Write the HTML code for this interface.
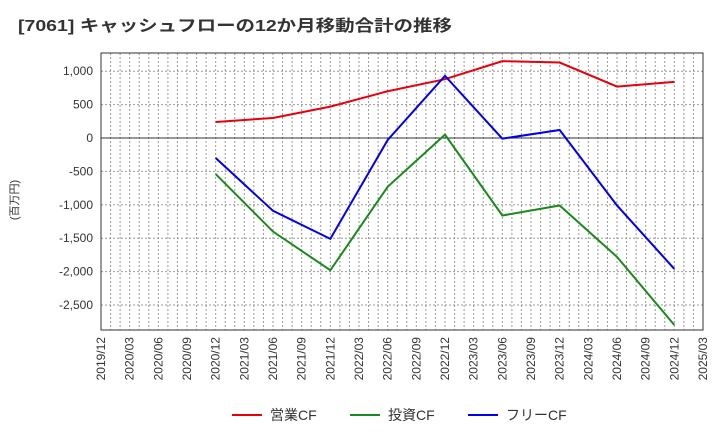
<!DOCTYPE html>
<html><head><meta charset="utf-8"><style>
body{margin:0;background:#fff;font-family:"Liberation Sans","Noto Sans CJK JP",sans-serif;}
</style></head><body>
<svg id="c" width="720" height="440" xmlns="http://www.w3.org/2000/svg" style="font-family:'Liberation Sans','Noto Sans CJK JP',sans-serif">
<text x="18" y="31" font-size="16" font-weight="bold" fill="#333" textLength="434" lengthAdjust="spacingAndGlyphs">[7061]  キャッシュフローの12か月移動合計の推移</text>
<text transform="translate(18,200) rotate(-90)" font-size="11" fill="#333" text-anchor="middle">(百万円)</text>
<g id="grid"></g><g id="series"></g><g id="axes"></g>
<g>
<line x1="232" y1="415" x2="262" y2="415" stroke="#e8000b" stroke-width="2"/><text x="270" y="420" font-size="14" fill="#333">営業CF</text>
<line x1="350" y1="415" x2="380" y2="415" stroke="#1a8a1a" stroke-width="2"/><text x="388" y="420" font-size="14" fill="#333">投資CF</text>
<line x1="468" y1="415" x2="498" y2="415" stroke="#0000ee" stroke-width="2"/><text x="506" y="420" font-size="14" fill="#333">フリーCF</text>
</g>
</svg>
<script>
const xLabels=["2019/12","2020/03","2020/06","2020/09","2020/12","2021/03","2021/06","2021/09","2021/12","2022/03","2022/06","2022/09","2022/12","2023/03","2023/06","2023/09","2023/12","2024/03","2024/06","2024/09","2024/12","2025/03"];
const yTicks=[1000,500,0,-500,-1000,-1500,-2000,-2500];
const yTickLabels=["1,000","500","0","-500","-1,000","-1,500","-2,000","-2,500"];
const pointIdx=[4,6,8,10,12,14,16,18,20];
const operating=[240,300,470,700,880,1150,1130,770,840];
const investing=[-540,-1400,-1980,-730,50,-1160,-1010,-1780,-2800];
const freeCF=[-300,-1090,-1510,-30,930,-10,120,-1010,-1960];
const L=101,R=703,T=53,B=330;
const x=i=>L+(R-L)*i/(xLabels.length-1);
const y=v=>138-v*0.0668;
const NS="http://www.w3.org/2000/svg";
function mk(p,t,a){const e=document.createElementNS(NS,t);for(const k in a)e.setAttribute(k,a[k]);p.appendChild(e);return e;}
const g=document.getElementById('grid'),ax=document.getElementById('axes'),s=document.getElementById('series');
for(let m=0;m<=63;m++){const xx=L+(R-L)*m/63;const l=mk(g,'line',{x1:xx,x2:xx,y1:T,y2:B,stroke:'#999','stroke-dasharray':'2,2','stroke-width':1});

}
yTicks.forEach((v,i)=>{const l=mk(g,'line',{x1:L,x2:R,y1:y(v),y2:y(v),stroke:v===0?'#333':'#999','stroke-dasharray':v===0?'':'2,2','stroke-width':1});


const t=mk(ax,'text',{x:L-8,y:y(v)+4,'font-size':12,fill:'#333','text-anchor':'end'});t.textContent=yTickLabels[i];

});
xLabels.forEach((lb,i)=>{const t=mk(ax,'text',{transform:`translate(${x(i)+4},337) rotate(-90)`,'font-size':12,fill:'#333','text-anchor':'end'});t.textContent=lb;

});
const fr=mk(ax,'rect',{x:L,y:T,width:R-L,height:B-T,fill:'none',stroke:'#333','stroke-width':1});


[[operating,'#e8000b','operating-cf-line'],[investing,'#1a8a1a','investing-cf-line'],[freeCF,'#0000ee','free-cf-line']].forEach(([d,c,n])=>{
const p=mk(s,'polyline',{points:d.map((v,i)=>x(pointIdx[i])+','+y(v)).join(' '),fill:'none',stroke:c,'stroke-width':2});

});
</script>
</body></html>
